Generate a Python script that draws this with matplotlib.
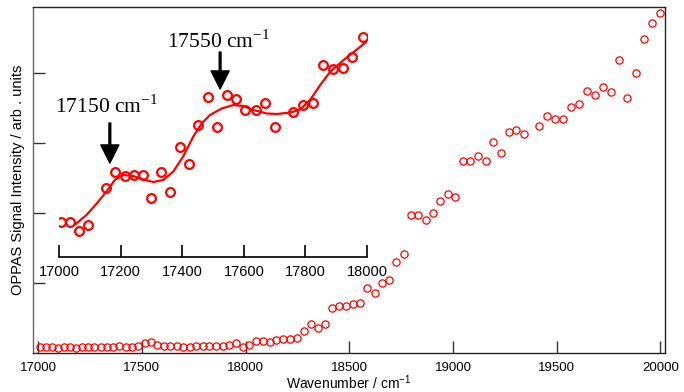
"""
OPPAS spectrum: full range with a zoomed inset of 17000-18000 cm-1
"""

import matplotlib
matplotlib.use('Agg')
import matplotlib.pyplot as plt

# ── data: main spectrum ───────────────────────────────────────────────────────
wavenumber = [17007, 17036, 17065, 17094, 17123, 17153, 17182, 17212, 17241, 17271,
              17301, 17331, 17361, 17391, 17422, 17452, 17483, 17513, 17544, 17575,
              17606, 17637, 17668, 17699, 17730, 17762, 17794, 17825, 17857, 17889,
              17921, 17953, 17986, 18018, 18051, 18083, 18116, 18149, 18182, 18215,
              18248, 18282, 18315, 18349, 18382, 18416, 18450, 18484, 18519, 18553,
              18587, 18622, 18657, 18692, 18727, 18762, 18797, 18832, 18868, 18904,
              18939, 18975, 19011, 19048, 19084, 19120, 19157, 19194, 19231, 19268,
              19305, 19342, 19417, 19455, 19493, 19531, 19569, 19608, 19646, 19685,
              19724, 19763, 19802, 19841, 19881, 19920, 19960, 20000]
intensity = [0.079, 0.079, 0.079, 0.071, 0.079, 0.079, 0.071, 0.079, 0.079, 0.086,
             0.079, 0.079, 0.086, 0.096, 0.079, 0.086, 0.100, 0.143, 0.157, 0.114,
             0.107, 0.100, 0.093, 0.086, 0.086, 0.100, 0.100, 0.093, 0.093, 0.100,
             0.114, 0.136, 0.086, 0.121, 0.167, 0.167, 0.153, 0.190, 0.200, 0.204,
             0.210, 0.319, 0.414, 0.361, 0.410, 0.639, 0.671, 0.671, 0.696, 0.710,
             0.933, 0.861, 0.996, 1.039, 1.304, 1.414, 1.971, 1.971, 1.904, 1.996,
             2.176, 2.271, 2.229, 2.747, 2.747, 2.814, 2.739, 3.014, 2.861, 3.164,
             3.190, 3.133, 3.240, 3.390, 3.343, 3.336, 3.521, 3.561, 3.736, 3.686,
             3.796, 3.733, 4.186, 3.646, 4.004, 4.486, 4.710, 4.861]

# ── data: inset (zoomed 17000-18000) ──────────────────────────────────────────
inset_wn = [17005, 17035, 17064, 17094, 17152, 17181, 17214, 17242, 17272, 17300,
            17331, 17361, 17392, 17422, 17452, 17483, 17513, 17544, 17576, 17605,
            17638, 17669, 17700, 17761, 17793, 17826, 17857, 17888, 17922, 17952,
            17987]
inset_int = [0.706, 0.700, 0.520, 0.640, 1.386, 1.694, 1.626, 1.640, 1.640, 1.174,
             1.706, 1.294, 2.194, 1.860, 2.646, 3.200, 2.606, 3.234, 3.166, 2.946,
             2.940, 3.086, 2.600, 2.906, 3.034, 3.080, 3.840, 3.754, 3.774, 3.994,
             4.406]

# smoothed fit through the inset points
fit_wn = [17054, 17089, 17121, 17154, 17181, 17208, 17241, 17273, 17306, 17338,
          17371, 17403, 17436, 17463, 17490, 17528, 17566, 17599, 17631, 17675,
          17707, 17751, 17783, 17816, 17848, 17881, 17924, 17967, 17999]
fit_int = [0.66, 0.84, 1.06, 1.31, 1.54, 1.64, 1.62, 1.55, 1.50, 1.54,
           1.71, 2.01, 2.41, 2.67, 2.84, 2.97, 3.04, 3.02, 2.94, 2.87,
           2.86, 2.89, 2.95, 3.15, 3.44, 3.71, 3.94, 4.15, 4.31]

# peak markers: (label, wavenumber of arrow, arrow tail, arrow tip, text x, text y)
peaks = [('17150', 17165, 2.68, 1.88, 16987, 2.88),
         ('17550', 17523, 4.10, 3.36, 17351, 4.18)]

# ── 绘图 ──────────────────────────────────────────────────────────────────────
plt.rcParams['font.family'] = ['Liberation Sans', 'DejaVu Sans']

fig = plt.figure(figsize=(6.84, 3.92), dpi=100, facecolor='white')
ax = fig.add_axes([0.0482, 0.0995, 0.9240, 0.8827])

ax.plot(wavenumber, intensity, 'o', mfc='none', mec='red', ms=5.2, mew=0.9)
ax.set_xlim(16975, 20022)
ax.set_ylim(0, 4.943)
ax.set_xticks([17000, 17500, 18000, 18500, 19000, 19500, 20000])
ax.set_yticks([1, 2, 3, 4])
ax.set_yticklabels([])
ax.tick_params(direction='in', length=8.5, width=1.0, labelsize=9.5, pad=6.5,
               color='#333')
for sp in ax.spines.values():
    sp.set_color('#222')
    sp.set_linewidth(1.0)
ax.spines['left'].set_color('#666')
ax.set_xlabel('Wavenumber / cm$^{\\mathregular{-1}}$', fontsize=10)
ax.xaxis.set_label_coords(0.5, -0.06)
ax.set_ylabel('OPPAS Signal Intensity / arb . units', fontsize=10.5)
ax.yaxis.set_label_coords(-0.012, 0.5)

# ─ inset ─────────────────────────────────────────────────────────────────────
ins = fig.add_axes([0.0863, 0.3444, 0.4503, 0.6173])
ins.patch.set_alpha(0)
ins.plot(fit_wn, fit_int, color='red', lw=1.6)
ins.plot(inset_wn, inset_int, 'o', mfc='none', mec='red', ms=6.3, mew=1.6)
ins.set_xlim(17000, 18000)
ins.set_ylim(0, 4.84)
ins.set_xticks([17000, 17200, 17400, 17600, 17800, 18000])
ins.set_yticks([])
for side in ['top', 'right', 'left']:
    ins.spines[side].set_visible(False)
ins.spines['bottom'].set_linewidth(1.2)
ins.tick_params(axis='x', direction='in', length=8.5, width=1.2, labelsize=10.5,
                pad=6)

for lab, x_arr, y_tail, y_tip, tx, ty in peaks:
    ins.annotate('', xy=(x_arr, y_tip), xytext=(x_arr, y_tail),
                 arrowprops=dict(facecolor='black', edgecolor='black', width=1.3,
                                 headwidth=13, headlength=13, shrink=0))
    ins.text(tx, ty, lab + ' cm$^{\\mathregular{-1}}$', fontsize=15.5,
             family='Liberation Serif', ha='left', va='baseline')

plt.savefig('out.png', dpi=100, facecolor='white')
plt.close()
